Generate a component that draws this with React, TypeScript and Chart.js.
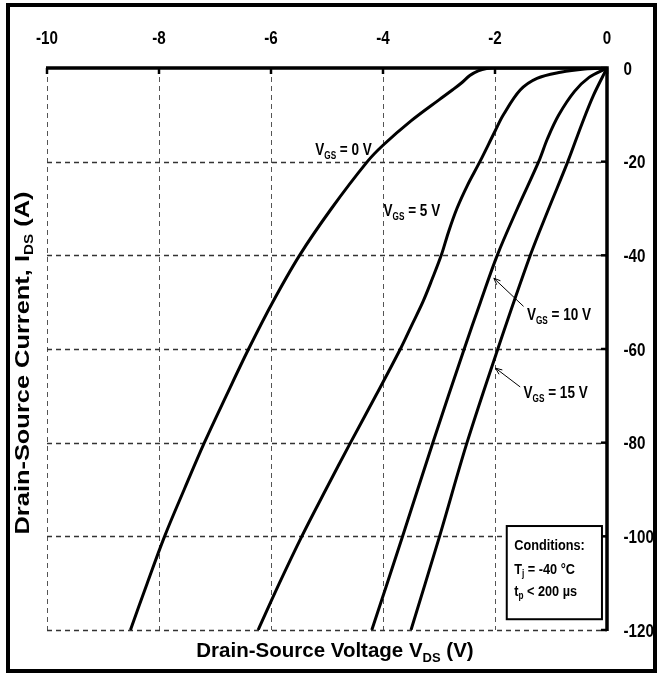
import React, { useEffect, useRef } from 'react';
import { Chart, registerables } from 'chart.js';

Chart.register(...registerables);

const FONT = "'Liberation Sans', Arial, sans-serif";
const NARROW = 0.82;

// Tick labels
const X_TICKS = [-10, -8, -6, -4, -2, 0];
const Y_TICKS = [0, -20, -40, -60, -80, -100, -120];

// VGS = 0 V
const VDS_0 = [-8.51, -8.21, -7.9, -7.55, -7.19, -6.8, -6.4, -5.97, -5.49, -4.92, -4.28, -4.0, -3.5, -3.0, -2.75, -2.6, -2.45, -2.3, -2.15, -2.0, -1.5, -0.8, 0];
const ID_0 = [-120, -110, -100, -90, -80, -70, -60, -50, -40, -30, -20, -16.5, -11.3, -6.8, -4.6, -3.2, -1.6, -0.6, -0.1, 0, 0, 0, 0];

// VGS = 5 V
const VDS_5 = [-6.23, -5.85, -5.45, -5.02, -4.58, -4.13, -3.69, -3.49, -3.29, -3.12, -2.96, -2.83, -2.68, -2.49, -2.27, -2.0, -1.85, -1.55, -1.25, -0.83, -0.4, 0];
const ID_5 = [-120, -110, -100, -90, -80, -70, -60, -55, -50, -45, -40, -35, -30, -25, -20, -13.5, -10.0, -4.7, -2.2, -0.9, -0.2, 0];

// VGS = 10 V
const VDS_10 = [-4.2, -3.65, -3.11, -2.55, -2.26, -1.96, -1.6, -1.22, -1.06, -0.86, -0.58, -0.32, 0];
const ID_10 = [-120, -100, -80, -60, -50, -40, -30, -20, -15, -10, -5, -2, 0];

// VGS = 15 V
const VDS_15 = [-3.5, -2.99, -2.5, -1.95, -1.37, -1.04, -0.7, -0.45, -0.24, 0];
const ID_15 = [-120, -100, -80, -60, -40, -30, -20, -12, -5.8, 0];

const VGS = ['0', '5', '10', '15'];
const VDS_SERIES = [VDS_0, VDS_5, VDS_10, VDS_15];
const ID_SERIES = [ID_0, ID_5, ID_10, ID_15];

// Curve label anchors (data coords, left / baseline)
const LABEL_X = [-5.21, -3.99, -1.43, -1.49];
const LABEL_Y = [-18.6, -31.6, -53.8, -70.5];

// Arrows (tail -> head), data coords
const ARROWS = [
  { x1: -1.49, y1: -50.9, x2: -2.02, y2: -44.9 },
  { x1: -1.55, y1: -68.1, x2: -1.99, y2: -64.1 },
];

// Conditions box corners (data coords)
const BOX = { x1: -1.79, y1: -97.8, x2: -0.09, y2: -117.7 };

type Part = { t: string; sub?: boolean };

function setFont(ctx: CanvasRenderingContext2D, size: number, sub?: boolean) {
  ctx.font = `bold ${sub ? Math.round(size * 0.62) : size}px ${FONT}`;
}

function richWidth(ctx: CanvasRenderingContext2D, parts: Part[], size: number) {
  let w = 0;
  for (const p of parts) {
    setFont(ctx, size, p.sub);
    w += ctx.measureText(p.t).width;
  }
  return w;
}

// draws rich text starting at (x, y) baseline; sx = horizontal scale
function drawRich(ctx: CanvasRenderingContext2D, parts: Part[], x: number, y: number, size: number, sx: number) {
  ctx.save();
  ctx.translate(x, y);
  ctx.scale(sx, 1);
  ctx.textAlign = 'left';
  ctx.textBaseline = 'alphabetic';
  let cx = 0;
  for (const p of parts) {
    setFont(ctx, size, p.sub);
    ctx.fillText(p.t, cx, p.sub ? size * 0.22 : 0);
    cx += ctx.measureText(p.t).width;
  }
  ctx.restore();
}

const overlay = {
  id: 'overlay',
  beforeDatasetsDraw(chart: any) {
    const ctx: CanvasRenderingContext2D = chart.ctx;
    const xs = chart.scales.x;
    const ys = chart.scales.y;
    const ca = chart.chartArea;
    ctx.save();
    // dashed grid
    ctx.setLineDash([5, 4]);
    ctx.lineWidth = 1;
    ctx.strokeStyle = '#555';
    for (const t of xs.ticks) {
      if (t.value === 0) continue;
      const px = Math.round(xs.getPixelForValue(t.value)) + 0.5;
      ctx.beginPath();
      ctx.moveTo(px, ca.top);
      ctx.lineTo(px, ca.bottom);
      ctx.stroke();
    }
    ctx.strokeStyle = '#333';
    ctx.lineWidth = 1.3;
    for (const t of ys.ticks) {
      if (t.value === 0) continue;
      const py = Math.round(ys.getPixelForValue(t.value)) + 0.5;
      ctx.beginPath();
      ctx.moveTo(ca.left, py);
      ctx.lineTo(ca.right, py);
      ctx.stroke();
    }
    ctx.setLineDash([]);
    // inner tick marks
    ctx.strokeStyle = '#000';
    ctx.lineWidth = 2.5;
    for (const t of xs.ticks) {
      const px = xs.getPixelForValue(t.value);
      ctx.beginPath();
      ctx.moveTo(px, ca.top);
      ctx.lineTo(px, ca.top + 6);
      ctx.stroke();
    }
    for (const t of ys.ticks) {
      const py = ys.getPixelForValue(t.value);
      ctx.beginPath();
      ctx.moveTo(ca.right - 6, py);
      ctx.lineTo(ca.right, py);
      ctx.stroke();
    }
    // axis lines (top and right)
    ctx.lineWidth = 3.5;
    ctx.beginPath();
    ctx.moveTo(ca.left - 1, ca.top);
    ctx.lineTo(ca.right, ca.top);
    ctx.lineTo(ca.right, ca.bottom + 1);
    ctx.stroke();

    // tick labels (condensed bold)
    ctx.fillStyle = '#000';
    const tsize = 18.5;
    for (const t of xs.ticks) {
      const label = String(t.value);
      const px = xs.getPixelForValue(t.value);
      const w = richWidth(ctx, [{ t: label }], tsize) * NARROW;
      drawRich(ctx, [{ t: label }], px - w / 2, ca.top - 24.5, tsize, NARROW);
    }
    for (const t of ys.ticks) {
      const label = String(t.value);
      const py = ys.getPixelForValue(t.value);
      drawRich(ctx, [{ t: label }], ca.right + 16.5, py + 6.5, tsize, NARROW);
    }
    ctx.restore();
  },
  afterDatasetsDraw(chart: any) {
    const ctx: CanvasRenderingContext2D = chart.ctx;
    const xs = chart.scales.x;
    const ys = chart.scales.y;
    const ca = chart.chartArea;
    ctx.save();
    ctx.fillStyle = '#000';

    // curve labels
    VGS.forEach((g, i) => {
      const px = xs.getPixelForValue(LABEL_X[i]);
      const py = ys.getPixelForValue(LABEL_Y[i]);
      drawRich(ctx, [{ t: 'V' }, { t: 'GS', sub: true }, { t: ` = ${g} V` }], px, py, 16.5, NARROW);
    });

    // arrows
    ctx.strokeStyle = '#000';
    ctx.lineWidth = 1;
    for (const a of ARROWS) {
      const x1 = xs.getPixelForValue(a.x1);
      const y1 = ys.getPixelForValue(a.y1);
      const x2 = xs.getPixelForValue(a.x2);
      const y2 = ys.getPixelForValue(a.y2);
      ctx.beginPath();
      ctx.moveTo(x1, y1);
      ctx.lineTo(x2, y2);
      ctx.stroke();
      const ang = Math.atan2(y1 - y2, x1 - x2);
      const L = 7;
      ctx.beginPath();
      ctx.moveTo(x2 + L * Math.cos(ang + 0.4), y2 + L * Math.sin(ang + 0.4));
      ctx.lineTo(x2, y2);
      ctx.lineTo(x2 + L * Math.cos(ang - 0.4), y2 + L * Math.sin(ang - 0.4));
      ctx.stroke();
    }

    // conditions box
    const bx1 = xs.getPixelForValue(BOX.x1);
    const by1 = ys.getPixelForValue(BOX.y1);
    const bx2 = xs.getPixelForValue(BOX.x2);
    const by2 = ys.getPixelForValue(BOX.y2);
    ctx.fillStyle = '#fff';
    ctx.fillRect(bx1, by1, bx2 - bx1, by2 - by1);
    ctx.lineWidth = 2;
    ctx.strokeStyle = '#000';
    ctx.strokeRect(bx1, by1, bx2 - bx1, by2 - by1);
    ctx.fillStyle = '#000';
    drawRich(ctx, [{ t: 'Conditions:' }], bx1 + 7.5, by1 + 24, 15.5, NARROW);
    drawRich(ctx, [{ t: 'T' }, { t: 'j', sub: true }, { t: ' = -40 °C' }], bx1 + 7.5, by1 + 48, 15.5, NARROW);
    drawRich(ctx, [{ t: 't' }, { t: 'p', sub: true }, { t: ' < 200 µs' }], bx1 + 7.5, by1 + 70, 15.5, NARROW);

    // x axis title
    const xt: Part[] = [{ t: 'Drain-Source Voltage V' }, { t: 'DS', sub: true }, { t: ' (V)' }];
    const xw = richWidth(ctx, xt, 20.5);
    drawRich(ctx, xt, (ca.left + ca.right) / 2 + 8 - xw / 2, ca.bottom + 27, 20.5, 1);

    // y axis title
    const yt: Part[] = [{ t: 'Drain-Source Current, I' }, { t: 'DS', sub: true }, { t: ' (A)' }];
    ctx.save();
    ctx.translate(29, 363);
    ctx.rotate(-Math.PI / 2);
    const ysx = 1.27;
    const yw = richWidth(ctx, yt, 20) * ysx;
    drawRich(ctx, yt, -yw / 2, 0, 20, ysx);
    ctx.restore();

    // outer frame
    ctx.lineWidth = 4;
    ctx.strokeStyle = '#000';
    ctx.strokeRect(8, 5, 647, 666);
    ctx.restore();
  },
};

export default function App() {
  const ref = useRef<HTMLCanvasElement | null>(null);
  useEffect(() => {
    if (!ref.current) return;
    const chart = new Chart(ref.current, {
      type: 'scatter',
      data: {
        datasets: VGS.map((g, i) => ({
          label: `VGS = ${g} V`,
          data: VDS_SERIES[i].map((x, j) => ({ x, y: ID_SERIES[i][j] })),
          showLine: true,
          borderColor: '#000',
          backgroundColor: '#000',
          borderWidth: 3,
          pointRadius: 0,
          tension: 0.35,
          fill: false,
        })),
      },
      options: {
        animation: false,
        responsive: false,
        devicePixelRatio: 1,
        layout: { padding: { left: 47, top: 28, right: 0, bottom: 44 } },
        plugins: { legend: { display: false }, tooltip: { enabled: false } },
        scales: {
          x: {
            type: 'linear',
            position: 'top',
            min: -10,
            max: 0,
            afterBuildTicks: (s: any) => {
              s.ticks = X_TICKS.map((value) => ({ value }));
            },
            afterFit: (s: any) => {
              s.height = 40;
            },
            grid: { display: false, drawTicks: false },
            border: { display: false },
            ticks: { display: false },
          },
          y: {
            type: 'linear',
            position: 'right',
            min: -120,
            max: 0,
            afterBuildTicks: (s: any) => {
              s.ticks = Y_TICKS.map((value) => ({ value }));
            },
            afterFit: (s: any) => {
              s.width = 52;
            },
            grid: { display: false, drawTicks: false },
            border: { display: false },
            ticks: { display: false },
          },
        },
      },
      plugins: [overlay],
    });
    return () => chart.destroy();
  }, []);
  return (
    <div style={{ position: 'absolute', left: 0, top: 0, width: 659, height: 674, background: '#fff' }}>
      <canvas ref={ref} width={659} height={674} style={{ display: 'block', width: 659, height: 674 }} />
    </div>
  );
}
